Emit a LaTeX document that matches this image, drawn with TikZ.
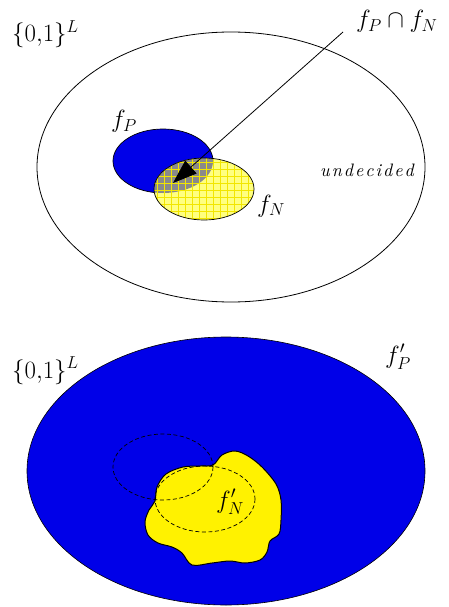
\documentclass[tikz,border=0pt]{standalone}
\usepackage{fontspec}
\usepackage{graphicx}
\usetikzlibrary{arrows.meta}
\definecolor{myblue}{HTML}{0000E8}
\definecolor{myyellow}{HTML}{FFFF80}
\definecolor{gridyellow}{HTML}{F2E600}
\definecolor{mygray}{HTML}{8A8A8A}
\newcommand\spaced[1]{\spacedloop#1\relax}
\def\spacedloop#1{\ifx#1\relax\else#1\kern1.1pt\expandafter\spacedloop\fi}
\tikzset{
  lbl/.style={inner sep=0pt, font=\fontsize{25}{28}\selectfont},
  outline/.style={draw=black, line width=0.8pt},
  dashell/.style={draw=black, line width=0.7pt, dash pattern=on 4pt off 2.5pt}
}
\begin{document}
\begin{tikzpicture}[x=1pt,y=-1pt]
\useasboundingbox (0,0) rectangle (448,607);
% ---------- top picture ----------
\draw[outline] (231,167) ellipse [x radius=194, y radius=135];
% blue f_P
\fill[myblue] (163,161) ellipse [x radius=50, y radius=32];
\draw[black, line width=0.7pt] (163,161) ellipse [x radius=50, y radius=32];
% yellow f_N with grid
\fill[myyellow] (204,189) ellipse [x radius=50, y radius=31];
\begin{scope}
  \clip (204,189) ellipse [x radius=50, y radius=31];
  \fill[mygray] (163,161) ellipse [x radius=50, y radius=32];
  \foreach \i in {0,...,16} {
    \draw[gridyellow, line width=0.9pt] (150+7*\i,150) -- (150+7*\i,230);
  }
  \foreach \j in {0,...,11} {
    \draw[gridyellow, line width=0.9pt] (145,155+7*\j) -- (265,155+7*\j);
  }
\end{scope}
\draw[black, line width=0.7pt] (204,189) ellipse [x radius=50, y radius=31];
\coordinate (tip) at (173,183);
\coordinate (tail) at (343,32);
\draw[line width=0.8pt, -{Triangle[length=24pt,width=17pt]}] (tail) -- (tip);
\node[lbl, anchor=base west] (L1) at (12,42) {$\{0{,}1\}^{L}$};
\node[lbl, anchor=base west] (FP) at (111,128) {$f_{P}$};
\node[lbl, anchor=base west] (FN) at (257,212) {$f_{N}$};
\node[lbl, anchor=base west] (FPN) at (356,28) {$f_{P}\cap f_{N}$};
\node[inner sep=0pt, anchor=base west] (UND) at (320,176) {\scalebox{1.8}{\normalsize\itshape\spaced{undecided}}};
% ---------- bottom picture ----------
\fill[myblue, draw=black, line width=0.6pt] (226,471) ellipse [x radius=199, y radius=134];
\fill[yellow, draw=black, line width=1pt] plot[smooth cycle, tension=0.55] coordinates {
 (213,465) (222,455) (235,451) (248,456) (262,467) (276,484) (281,500) (281,520) (279,534)
 (270,541) (267,552) (260,560) (245,563) (230,561) (212,563) (192,565) (182,553)
 (172,547) (158,543) (148,535) (145,522) (149,510) (155,501) (157,487) (166,474) (183,467) (200,466)};
\draw[dashell] (163,467) ellipse [x radius=50, y radius=33];
\draw[dashell] (205,499) ellipse [x radius=50, y radius=33];
\node[lbl, anchor=base west] (L2) at (12,378) {$\{0{,}1\}^{L}$};
\node[lbl, anchor=base west] (FPp) at (385,363) {$f'_{P}$};
\node[lbl, anchor=base west] (FNp) at (216,508) {$f'_{N}$};
\end{tikzpicture}
\end{document}
